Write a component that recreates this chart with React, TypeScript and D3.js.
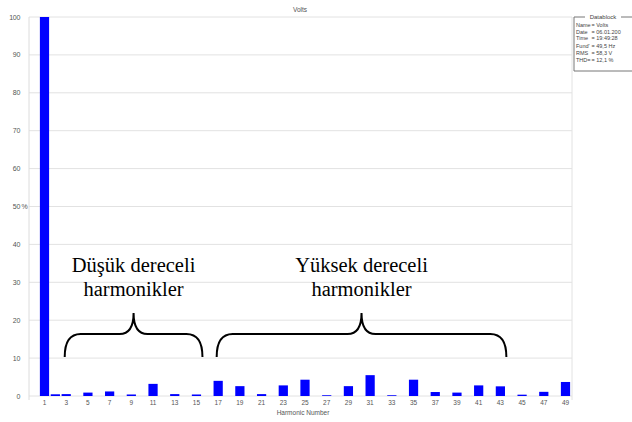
import React from "react";
import * as d3 from "d3";

// Harmonic spectrum of the voltage, in % of the fundamental
const harmonics: number[] = [
  1, 2, 3, 4, 5, 6, 7, 8, 9, 10, 11, 12, 13, 14, 15, 16, 17, 18, 19, 20, 21, 22, 23, 24, 25,
  26, 27, 28, 29, 30, 31, 32, 33, 34, 35, 36, 37, 38, 39, 40, 41, 42, 43, 44, 45, 46, 47, 48, 49,
];
const levels: number[] = [
  100, 0.45, 0.5, 0, 0.9, 0, 1.2, 0, 0.4, 0, 3.2, 0, 0.5, 0, 0.4, 0, 4.0, 0, 2.6, 0, 0.5, 0, 2.8, 0, 4.3,
  0, 0.2, 0, 2.6, 0, 5.5, 0, 0.2, 0, 4.3, 0, 1.05, 0, 0.9, 0, 2.8, 0, 2.55, 0, 0.35, 0, 1.1, 0, 3.7,
];
const xTickLabels: number[] = [
  1, 3, 5, 7, 9, 11, 13, 15, 17, 19, 21, 23, 25, 27, 29, 31, 33, 35, 37, 39, 41, 43, 45, 47, 49,
];
const yTicks: number[] = [0, 10, 20, 30, 40, 50, 60, 70, 80, 90, 100];
const datablockLines: [string, string][] = [
  ["Name", "= Volts"],
  ["Date", "= 06.01.200"],
  ["Time", "= 19:49:28"],
  ["Fund'", "= 49,5 Hz"],
  ["RMS", "= 58,3 V"],
  ["THD=", "= 12,1 %"],
];
const groups = [
  { from: 3, to: 15, lines: ["Düşük dereceli", "harmonikler"] },
  { from: 17, to: 43, lines: ["Yüksek dereceli", "harmonikler"] },
];

const W = 632;
const H = 422;
const plotLeft = 29;
const plotRight = 572;
const plotTop = 17;
const plotBottom = 396;

export default function App() {
  const x = d3
    .scaleBand<number>()
    .domain(harmonics)
    .range([39.07, 570.93])
    .paddingInner(0.15)
    .paddingOuter(0.075);
  const y = d3.scaleLinear().domain([0, 100]).range([plotBottom, plotTop]);
  const cx = (h: number) => (x(h) ?? 0) + x.bandwidth() / 2;

  const sans = "'Liberation Sans', Arial, sans-serif";
  const serif = "'Liberation Serif', 'Times New Roman', serif";

  // curly brace opening upward between two harmonics
  const bracePath = (x0: number, x1: number) => {
    const yB = 357;
    const yL = 334;
    const tip = 313;
    const mid = (x0 + x1) / 2;
    const r = 16;
    const r2 = 14;
    return [
      `M${x0},${yB}`,
      `Q${x0},${yL} ${x0 + r},${yL}`,
      `L${mid - r2},${yL}`,
      `Q${mid},${yL} ${mid},${tip}`,
      `Q${mid},${yL} ${mid + r2},${yL}`,
      `L${x1 - r},${yL}`,
      `Q${x1},${yL} ${x1},${yB}`,
    ].join(" ");
  };

  return (
    <svg
      width={W}
      height={H}
      style={{ position: "absolute", left: 0, top: 0, background: "#fff" }}
    >
      <rect x={0} y={0} width={W} height={H} fill="#fff" />
      {/* grid */}
      {yTicks.map((t) => (
        <line
          key={t}
          x1={plotLeft}
          x2={plotRight}
          y1={y(t)}
          y2={y(t)}
          stroke="#e2e2e2"
          strokeWidth={1}
        />
      ))}
      <line x1={plotLeft} x2={plotLeft} y1={plotTop} y2={plotBottom + 4} stroke="#dcdcdc" />
      <line x1={plotRight} x2={plotRight} y1={plotTop} y2={plotBottom + 4} stroke="#e2e2e2" />

      {/* y labels */}
      {yTicks.map((t) => (
        <text
          key={t}
          x={20}
          y={y(t) + 2.5}
          fontSize={7}
          fontFamily={sans}
          fill="#555"
          textAnchor="end"
          letterSpacing={-0.3}
        >
          {t}
        </text>
      ))}
      <text x={21.5} y={y(50) + 2.5} fontSize={7} fontFamily={sans} fill="#555">
        %
      </text>

      {/* bars */}
      {harmonics.map((h, i) =>
        levels[i] > 0 ? (
          <rect
            key={h}
            x={x(h)}
            y={y(levels[i])}
            width={x.bandwidth()}
            height={plotBottom - y(levels[i])}
            fill="#0000ff"
          />
        ) : null
      )}

      {/* x labels */}
      {xTickLabels.map((h) => (
        <text
          key={h}
          x={cx(h)}
          y={405}
          fontSize={6.5}
          fontFamily={sans}
          fill="#555"
          textAnchor="middle"
        >
          {h}
        </text>
      ))}
      <text x={303} y={415} fontSize={6.5} fontFamily={sans} fill="#555" textAnchor="middle">
        Harmonic Number
      </text>
      <text x={300} y={12} fontSize={6.5} fontFamily={sans} fill="#555" textAnchor="middle">
        Volts
      </text>

      {/* datablock */}
      <path
        d={`M585,17 L574,17 L574,71 L640,71 M621,17 L640,17`}
        fill="none"
        stroke="#777"
        strokeWidth={1}
      />
      <text x={603} y={19} fontSize={6} fontFamily={sans} fill="#444" textAnchor="middle">
        Datablock
      </text>
      {datablockLines.map(([k, v], i) => {
        const yy = 27 + i * 6.6 + (i >= 3 ? 1.6 : 0);
        return (
          <g key={k} fontSize={5.5} fontFamily={sans} fill="#444">
            <text x={576} y={yy}>
              {k}
            </text>
            <text x={591.5} y={yy}>
              {v}
            </text>
          </g>
        );
      })}

      {/* annotation braces */}
      {groups.map((g) => {
        const x0 = cx(g.from) - 1.5;
        const x1 = cx(g.to) + 6;
        const mid = (x0 + x1) / 2;
        return (
          <g key={g.from}>
            <path d={bracePath(x0, x1)} fill="none" stroke="#000" strokeWidth={2} />
            {g.lines.map((line, j) => (
              <text
                key={j}
                x={mid}
                y={272 + j * 24}
                fontSize={20.5}
                fontFamily={serif}
                fill="#000"
                textAnchor="middle"
              >
                {line}
              </text>
            ))}
          </g>
        );
      })}
    </svg>
  );
}
